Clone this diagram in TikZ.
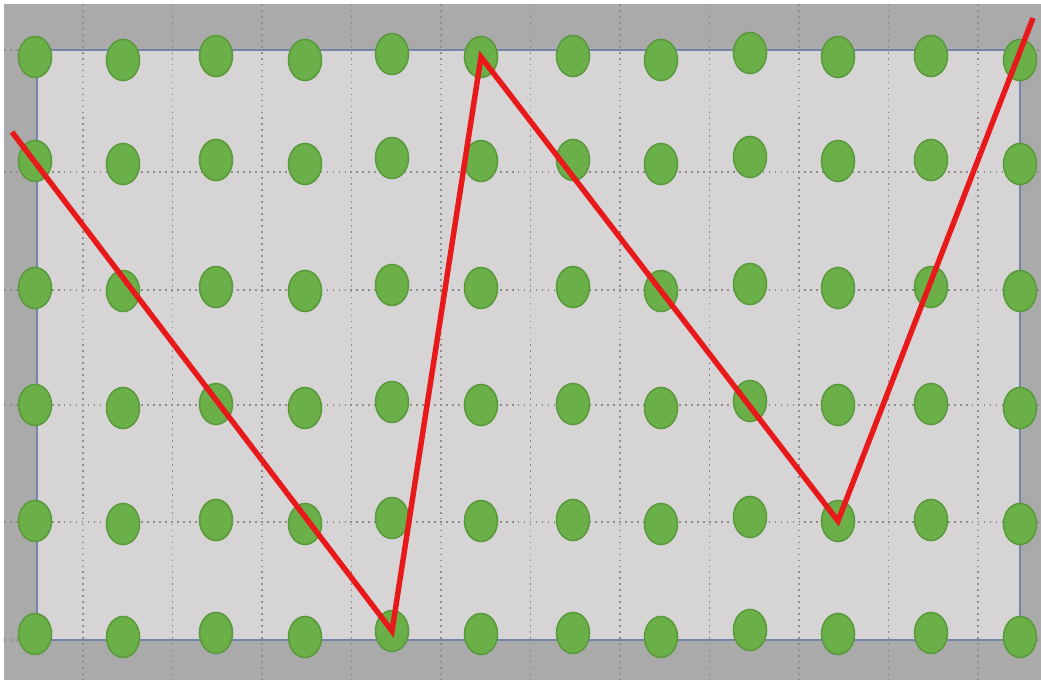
\documentclass[tikz,border=0pt]{standalone}
\usepackage{tikz}
\usetikzlibrary{shapes.geometric}

\definecolor{frame}{HTML}{AAAAAA}
\definecolor{panel}{HTML}{D6D4D4}
\definecolor{edge}{HTML}{7485A8}
\definecolor{gridc}{HTML}{8E8E8E}
\definecolor{dotfill}{HTML}{6AAF47}
\definecolor{dotline}{HTML}{5A9A3C}
\definecolor{zig}{HTML}{E8191A}

\tikzset{
    gridline/.style={gridc, line width=0.8pt, dash pattern=on 1pt off 2.4pt},
    pin/.style={ellipse, draw=dotline, fill=dotfill, line width=0.9pt,
        minimum width=0.66cm, minimum height=0.82cm, inner sep=0pt},
    zigline/.style={zig, line width=3.1pt, line join=miter}
}

\begin{document}
\begin{tikzpicture}[x=0.02cm, y=-0.02cm]

    \useasboundingbox (0,0) rectangle (1041,682);
    \fill[frame] (4,4) rectangle (1041,680);
    \fill[panel] (37,50) rectangle (1020,640);

    \foreach \k in {0,...,10}
    {
        \draw[gridline] (83+\k*89.5,4) -- (83+\k*89.5,680);
    }

    \foreach \y in {50,172,290,405,522,640}
    {
        \draw[gridline] (4,\y) -- (1041,\y);
    }

    \draw[edge, line width=1.1pt] (37,50) rectangle (1020,640);

    \foreach \c/\x/\dy in {1/35/0, 2/123/3, 3/216/-1, 4/305/3, 5/392/-3, 6/481/0,
                           7/573/-1, 8/661/3, 9/750/-4, 10/838/0, 11/931/-1, 12/1020/3}
    {
        \foreach \r/\y in {1/57, 2/161, 3/288, 4/405, 5/521, 6/634}
        {
            \node[pin] (d-\r-\c) at (\x,\y+\dy) {};
        }
    }

    \coordinate (start) at (12,132);
    \coordinate (finish) at (1033,18);

    \draw[zigline] (start) -- (d-6-5.center) -- (d-1-6.center)
        -- (d-5-10.center) -- (finish);

\end{tikzpicture}
\end{document}
